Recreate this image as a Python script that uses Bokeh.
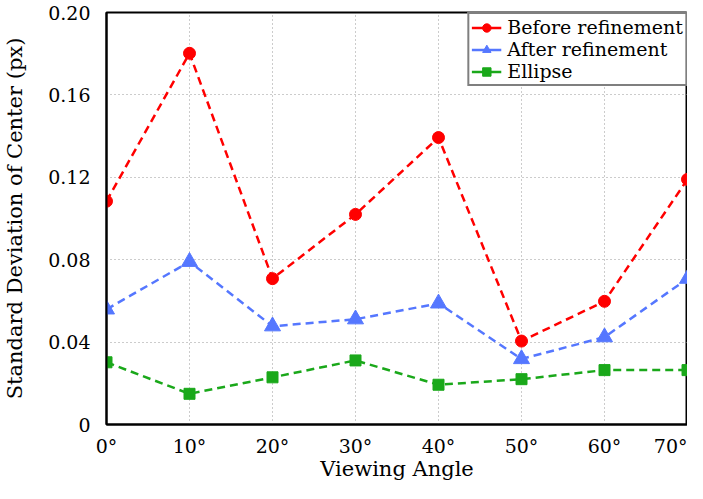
from bokeh.plotting import figure
from bokeh.models import FixedTicker, Range1d, Legend, LegendItem
from bokeh.embed import file_html
from bokeh.resources import INLINE

angles = [0, 10, 20, 30, 40, 50, 60, 70]
angle_labels = ["0°", "10°", "20°", "30°", "40°", "50°", "60°", "70°"]
before = [0.1084, 0.1802, 0.0708, 0.1020, 0.1393, 0.0405, 0.0598, 0.1190]
after = [0.0559, 0.0790, 0.0477, 0.0511, 0.0588, 0.0318, 0.0424, 0.0708]
ellipse = [0.0302, 0.0149, 0.0229, 0.0311, 0.0193, 0.0220, 0.0264, 0.0264]
y_ticks = [0, 0.04, 0.08, 0.12, 0.16, 0.20]
y_labels = ["0", "0.04", "0.08", "0.12", "0.16", "0.20"]

FONT = "DejaVu Serif"

p = figure(width=687, height=483, output_backend="svg", toolbar_location=None,
           x_range=Range1d(0, 70), y_range=Range1d(0, 0.20),
           min_border_left=10, min_border_right=0, min_border_top=12, min_border_bottom=0)

p.outline_line_color = "black"
p.outline_line_width = 2
p.outline_line_alpha = 1

for ax in (p.xaxis[0], p.yaxis[0]):
    ax.axis_line_width = 2
    ax.axis_line_color = "black"
    ax.major_tick_line_color = None
    ax.minor_tick_line_color = None
    ax.major_label_text_font = FONT
    ax.major_label_text_font_size = "19px"
    ax.major_label_text_color = "black"
    ax.axis_label_text_font = FONT
    ax.axis_label_text_font_size = "21px"
    ax.axis_label_text_font_style = "normal"
    ax.axis_label_text_color = "black"

p.xaxis.ticker = FixedTicker(ticks=angles)
p.xaxis.major_label_overrides = {a: l for a, l in zip(angles, angle_labels)}
p.yaxis.ticker = FixedTicker(ticks=y_ticks)
p.yaxis.major_label_overrides = {t: l for t, l in zip(y_ticks, y_labels)}
p.xaxis.axis_label = "Viewing Angle"
p.yaxis.axis_label = "Standard Deviation of Center (px)"
p.xaxis.major_label_standoff = 4
p.xaxis.axis_label_standoff = -3
p.yaxis.major_label_standoff = 10
p.yaxis.axis_label_standoff = 18

p.grid.grid_line_color = "#999999"
p.grid.grid_line_dash = "1 3"
p.grid.grid_line_width = 1

RED = "#ff0000"
BLUE = "#5577ff"
GREEN = "#1aa81a"

l1 = p.line(angles, before, color=RED, line_width=2.5, line_dash="8 5")
m1 = p.scatter(angles, before, marker="circle", size=12, color=RED)
l2 = p.line(angles, after, color=BLUE, line_width=2.5, line_dash="8 5")
m2 = p.scatter(angles, after, marker="triangle", size=16, color=BLUE)
l3 = p.line(angles, ellipse, color=GREEN, line_width=2.5, line_dash="8 5")
m3 = p.scatter(angles, ellipse, marker="square", size=11, color=GREEN)

lg1 = p.line([0], [0], color=RED, line_width=2.5, visible=False)
lg2 = p.line([0], [0], color=BLUE, line_width=2.5, visible=False)
lg3 = p.line([0], [0], color=GREEN, line_width=2.5, visible=False)

legend = Legend(items=[
    LegendItem(label="Before refinement", renderers=[lg1, m1]),
    LegendItem(label="After refinement", renderers=[lg2, m2]),
    LegendItem(label="Ellipse", renderers=[lg3, m3]),
], location="top_right")
legend.label_text_font = FONT
legend.label_text_font_size = "19px"
legend.label_text_color = "black"
legend.border_line_color = "black"
legend.border_line_width = 2
legend.margin = 0
legend.padding = 2
legend.spacing = 0
legend.label_height = 21
legend.glyph_height = 21
legend.glyph_width = 30
legend.label_standoff = 6
legend.background_fill_alpha = 1
p.add_layout(legend)

open("out.html", "w").write(file_html(p, INLINE))
